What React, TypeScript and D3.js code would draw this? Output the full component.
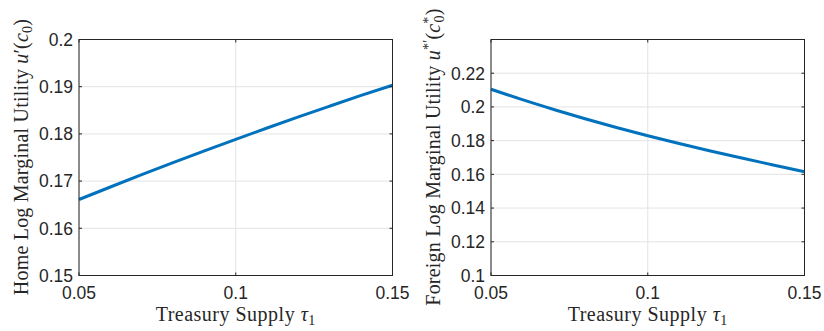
import React from "react";
import * as d3 from "d3";

const tau = [0.05, 0.06, 0.07, 0.08, 0.09, 0.10, 0.11, 0.12, 0.13, 0.14, 0.15];
const homeMU = [0.1661, 0.16875, 0.17135, 0.1739, 0.1764, 0.17885, 0.18125, 0.1836, 0.1859, 0.18815, 0.1903];
const foreignMU = [0.2105, 0.2043, 0.1985, 0.1930, 0.1878, 0.1829, 0.1783, 0.1739, 0.1697, 0.1656, 0.1615];
const xTicks = [0.05, 0.1, 0.15];
const homeYTicks = [0.15, 0.16, 0.17, 0.18, 0.19, 0.2];
const foreignYTicks = [0.1, 0.12, 0.14, 0.16, 0.18, 0.2, 0.22];

const W = 824, H = 331;
const tickFont = "'Liberation Sans', Arial, Helvetica, sans-serif";
const serif = "'Liberation Serif', 'Times New Roman', serif";

type PanelProps = {
  left: number;
  values: number[];
  yDomain: [number, number];
  yTicks: number[];
  label: React.ReactNode;
};

function Panel({ left, values, yDomain, yTicks, label }: PanelProps) {
  const x0 = left + 79, x1 = left + 392.5, y0 = 39.5, y1 = 275.5;
  const x = d3.scaleLinear().domain([0.05, 0.15]).range([x0, x1]);
  const y = d3.scaleLinear().domain(yDomain).range([y1, y0]);
  const line = d3.line<number>().x((_, i) => x(tau[i])).y((d) => y(d)).curve(d3.curveMonotoneX);
  const tl = 3;
  return (
    <g>
      {yTicks.map((t) => (
        <line key={"gy" + t} x1={x0} x2={x1} y1={y(t)} y2={y(t)} stroke="#e3e3e3" strokeWidth={1} />
      ))}
      {xTicks.map((t) => (
        <line key={"gx" + t} x1={x(t)} x2={x(t)} y1={y0} y2={y1} stroke="#e3e3e3" strokeWidth={1} />
      ))}
      <path d={line(values) || ""} fill="none" stroke="#0072BD" strokeWidth={3} />
      <rect x={x0} y={y0} width={x1 - x0} height={y1 - y0} fill="none" stroke="#262626" strokeWidth={1} />
      {yTicks.map((t) => (
        <g key={"ty" + t}>
          <line x1={x0} x2={x0 + tl} y1={y(t)} y2={y(t)} stroke="#262626" />
          <line x1={x1} x2={x1 - tl} y1={y(t)} y2={y(t)} stroke="#262626" />
          <text x={x0 - 6} y={y(t)} dy="0.36em" textAnchor="end" fontFamily={tickFont} fontSize={17.5} fill="#262626">
            {String(+t.toFixed(2))}
          </text>
        </g>
      ))}
      {xTicks.map((t) => (
        <g key={"tx" + t}>
          <line x1={x(t)} x2={x(t)} y1={y1} y2={y1 - tl} stroke="#262626" />
          <line x1={x(t)} x2={x(t)} y1={y0} y2={y0 + tl} stroke="#262626" />
          <text x={x(t)} y={299} textAnchor="middle" fontFamily={tickFont} fontSize={17.5} fill="#262626">
            {String(+t.toFixed(2))}
          </text>
        </g>
      ))}
      <text x={(x0 + x1) / 2} y={321} textAnchor="middle" fontFamily={serif} fontSize={20} letterSpacing={0.5} fill="#262626">
        Treasury Supply <tspan fontStyle="italic">τ</tspan>
        <tspan fontSize={14} dy={4}>1</tspan>
      </text>
      <text
        transform={`translate(${left + 28},${(y0 + y1) / 2 - 0.5}) rotate(-90)`}
        x={0}
        y={0}
        textAnchor="middle"
        fontFamily={serif}
        fontSize={20}
        letterSpacing={0.2}
        fill="#262626"
      >
        {label}
      </text>
    </g>
  );
}

export default function App() {
  return (
    <svg width={W} height={H} style={{ position: "absolute", left: 0, top: 0, background: "#fff" }}>
      <rect width={W} height={H} fill="#fff" />
      <Panel
        left={0}
        values={homeMU}
        yDomain={[0.15, 0.2]}
        yTicks={homeYTicks}
        label={
          <>
            Home Log Marginal Utility <tspan fontStyle="italic">u</tspan>′(<tspan fontStyle="italic">c</tspan>
            <tspan fontSize={14} dy={4}>0</tspan>
            <tspan dy={-4}>)</tspan>
          </>
        }
      />
      <Panel
        left={412}
        values={foreignMU}
        yDomain={[0.1, 0.24]}
        yTicks={foreignYTicks}
        label={
          <>
            Foreign Log Marginal Utility <tspan fontStyle="italic">u</tspan>
            <tspan fontSize={14} dy={-7}>*′</tspan>
            <tspan dy={7}>(</tspan>
            <tspan fontStyle="italic">c</tspan>
            <tspan fontSize={14} dy={-7}>*</tspan>
            <tspan fontSize={14} dx={-6} dy={11}>0</tspan>
            <tspan dy={-4}>)</tspan>
          </>
        }
      />
    </svg>
  );
}
